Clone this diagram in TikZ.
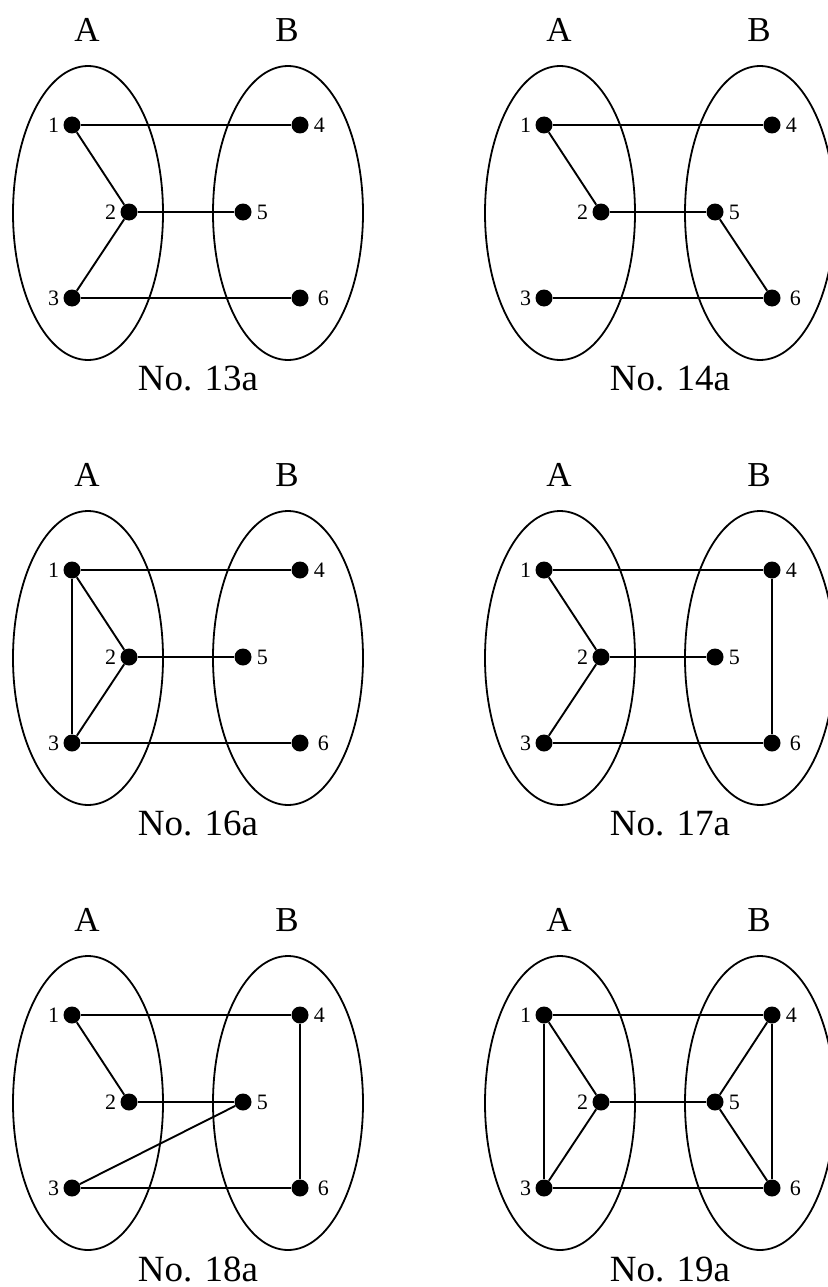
\documentclass[tikz,border=0pt]{standalone}
\usepackage{fontspec}
\setmainfont{Liberation Serif}
\usetikzlibrary{positioning}
\tikzset{
  vtx/.style={circle,fill=black,inner sep=0pt,minimum size=17pt},
  vlab/.style={font=\fontsize{22}{22}\selectfont,inner sep=1pt},
  link/.style={line width=1.9pt},
  setline/.style={line width=1.8pt},
  setlab/.style={font=\fontsize{35}{35}\selectfont,inner sep=0pt},
  caplab/.style={font=\fontsize{37}{37}\selectfont,inner sep=0pt}}
% #1,#2 shift, #3 prefix, #4 caption
\newcommand{\bipart}[4]{%
  \begin{scope}[shift={(#1,#2)}]
  \draw[setline](88,213) ellipse [x radius=75, y radius=147];
  \draw[setline](288,213) ellipse [x radius=75, y radius=147];
  \node[setlab] (#3A) at (87,30){A};
  \node[setlab] (#3B) at (287,30){B};
  \node[vtx,label={[vlab,label distance=3pt]left:1}] (#3v1) at (72,125){};
  \node[vtx,label={[vlab,label distance=3pt]left:2}] (#3v2) at (129,212){};
  \node[vtx,label={[vlab,label distance=3pt]left:3}] (#3v3) at (72,298){};
  \node[vtx,label={[vlab,label distance=4pt]right:4}] (#3v4) at (300,125){};
  \node[vtx,label={[vlab,label distance=4pt]right:5}] (#3v5) at (243,212){};
  \node[vtx,label={[vlab,label distance=8pt]right:6}] (#3v6) at (300,298){};
  \node[caplab] (#3cap) at (198,379){#4};
  \end{scope}}

\begin{document}
\begin{tikzpicture}[x=1pt,y=-1pt]
  \useasboundingbox (0,0) rectangle (827,1287);
  \bipart{0}{0}{p}{No. 13a}
  \bipart{472}{0}{q}{No. 14a}
  \bipart{0}{445}{r}{No. 16a}
  \bipart{472}{445}{s}{No. 17a}
  \bipart{0}{890}{t}{No. 18a}
  \bipart{472}{890}{u}{No. 19a}
  % edges
  \foreach \a/\b in {1/4,1/2,2/5,2/3,3/6}
    \draw[link](pv\a) -- (pv\b);
  \foreach \a/\b in {1/4,1/2,2/5,5/6,3/6}
    \draw[link](qv\a) -- (qv\b);
  \foreach \a/\b in {1/4,1/2,1/3,2/5,2/3,3/6}
    \draw[link](rv\a) -- (rv\b);
  \foreach \a/\b in {1/4,1/2,2/3,2/5,3/6,4/6}
    \draw[link](sv\a) -- (sv\b);
  \foreach \a/\b in {1/4,1/2,2/5,3/5,3/6,4/6}
    \draw[link](tv\a) -- (tv\b);
  \foreach \a/\b in {1/4,1/3,1/2,2/3,2/5,4/5,5/6,4/6,3/6}
    \draw[link](uv\a) -- (uv\b);
\end{tikzpicture}
\end{document}
